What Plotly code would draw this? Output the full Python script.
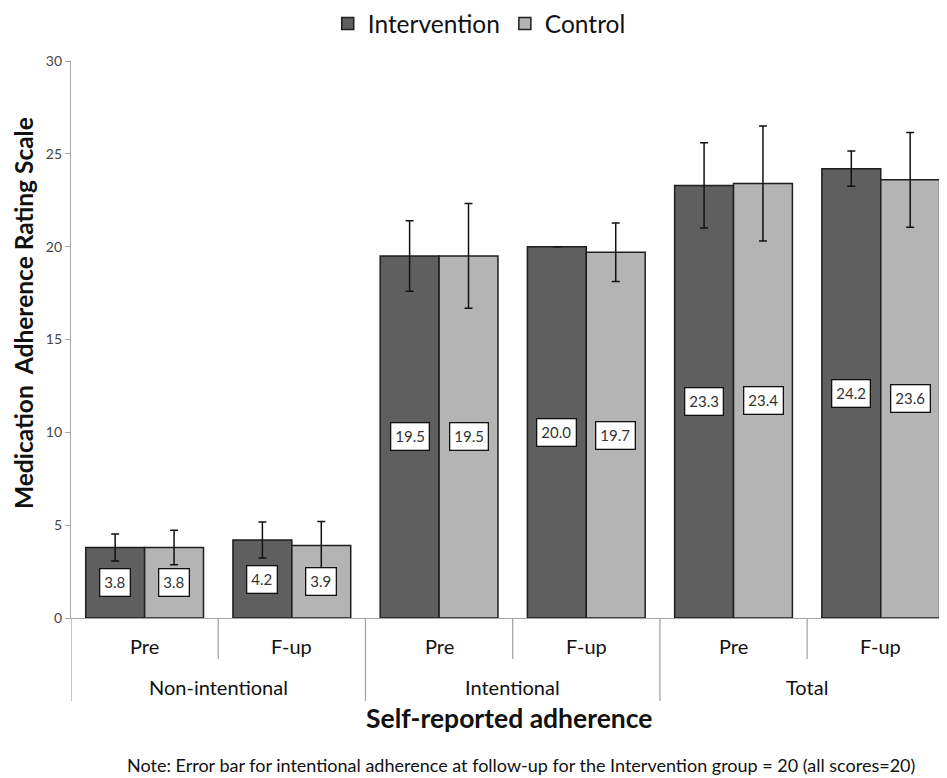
import plotly.graph_objects as go

groups = ["Non-intentional", "Non-intentional", "Intentional", "Intentional", "Total", "Total"]
times = ["Pre", "F-up", "Pre", "F-up", "Pre", "F-up"]
group_names = ["Non-intentional", "Intentional", "Total"]
intervention = [3.8, 4.2, 19.5, 20.0, 23.3, 24.2]
intervention_err = [0.73, 0.97, 1.9, None, 2.3, 0.95]
control = [3.8, 3.9, 19.5, 19.7, 23.4, 23.6]
control_err = [0.93, 1.3, 2.82, 1.58, 3.1, 2.55]
note = "Note: Error bar for intentional adherence at follow-up for the Intervention group = 20 (all scores=20)"
y_title = "Medication  Adherence Rating Scale"
x_title = "Self-reported adherence"

FONT = "Lato"
AXC = "#a6a6a6"
fig = go.Figure()
fig.add_trace(go.Bar(
    name="Intervention", x=[groups, times], y=intervention,
    marker=dict(color="#5f5f5f", line=dict(color="#1e1e1e", width=1.5)),
    error_y=dict(type="data", array=intervention_err, visible=True, color="#111", thickness=1.5, width=4),
))
fig.add_trace(go.Bar(
    name="Control", x=[groups, times], y=control,
    marker=dict(color="#b4b4b4", line=dict(color="#1e1e1e", width=1.5)),
    error_y=dict(type="data", array=control_err, visible=True, color="#111", thickness=1.5, width=4),
))

annotations = []
for series, shift in ((intervention, -29.5), (control, 29.5)):
    for i, v in enumerate(series):
        annotations.append(dict(x=i, y=v / 2, xref="x", yref="y", text=f"{v:.1f}", showarrow=False,
                                xshift=shift, bgcolor="white", bordercolor="#111", borderwidth=1.3, borderpad=4,
                                font=dict(family=FONT, size=15, color="#333")))
# category tick labels
for i, t in enumerate(times):
    annotations.append(dict(x=i, y=0, xref="x", yref="paper", yshift=-28, text=t, showarrow=False,
                            yanchor="middle", font=dict(family=FONT, size=20, color="#111")))
for j, g in enumerate(group_names):
    annotations.append(dict(x=2 * j + 0.5, y=0, xref="x", yref="paper", yshift=-69, text=g, showarrow=False,
                            yanchor="middle", font=dict(family=FONT, size=20, color="#111")))
annotations.append(dict(x=0.5, y=0, xref="paper", yref="paper", yshift=-100, text=f"<b>{x_title}</b>",
                        showarrow=False, yanchor="middle", font=dict(family=FONT, size=26.5, color="#111")))
annotations.append(dict(x=0, y=0.5476, xref="paper", yref="paper", xshift=-47, text=f"<b>{y_title}</b>",
                        textangle=-90, showarrow=False, xanchor="center", yanchor="middle",
                        font=dict(family=FONT, size=24.5, color="#111")))
annotations.append(dict(x=0.514, y=0, xref="paper", yref="paper", yshift=-147, text=note, showarrow=False,
                        xanchor="center", yanchor="middle", font=dict(family=FONT, size=18, color="#111")))

shapes = []
for j in range(len(group_names) + 1):
    b = 2 * j - 0.5
    shapes.append(dict(type="line", xref="x", yref="paper", ysizemode="pixel", yanchor=0,
                       x0=b, x1=b, y0=0, y1=-83, line=dict(color=AXC, width=1.3)))
    if j < len(group_names):
        shapes.append(dict(type="line", xref="x", yref="paper", ysizemode="pixel", yanchor=0,
                           x0=b + 1, x1=b + 1, y0=0, y1=-41, line=dict(color=AXC, width=1.3)))

fig.update_layout(
    width=947, height=778,
    margin=dict(l=63, r=8, t=53, b=168),
    paper_bgcolor="white", plot_bgcolor="white",
    barmode="group", bargap=0.2, bargroupgap=0,
    font=dict(family=FONT, color="#111"),
    showlegend=True,
    legend=dict(orientation="h", xref="paper", x=0.466, xanchor="center", yref="container", y=0.98,
                yanchor="middle", font=dict(family=FONT, size=24.5, color="#111"), itemwidth=30,
                traceorder="normal"),
    xaxis=dict(type="multicategory", range=[-0.5, 5.45], showline=True, linecolor=AXC, linewidth=1.3,
               ticks="", showticklabels=False, showdividers=False, automargin=False),
    yaxis=dict(range=[0, 30], dtick=5, showgrid=False, zeroline=False, showline=True, automargin=False,
               linecolor=AXC, linewidth=1.3, ticks="outside", ticklen=5, tickcolor=AXC,
               tickfont=dict(family=FONT, size=14, color="#444")),
    annotations=annotations, shapes=shapes,
)
fig.write_html("out.html")
